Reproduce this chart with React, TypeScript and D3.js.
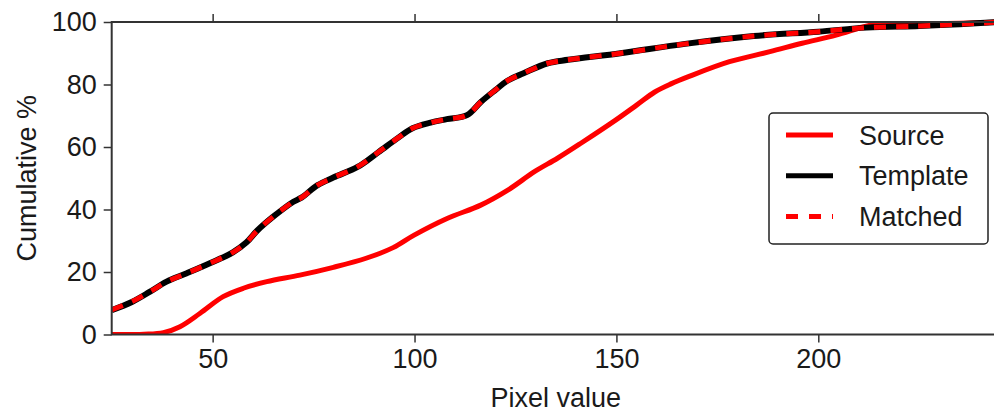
import React, { useEffect, useRef } from "react";
import * as d3 from "d3";

// pixel value / cumulative %
const sourceX = [25, 33, 37.8, 41.9, 46.9, 52.6, 57.6, 63.4, 71.6, 79.9, 88, 94.7, 99.9, 108.2, 116.4, 123.1, 129.7, 135.4, 141.2, 149.8, 155, 159.5, 163.5, 168, 178, 188, 196, 204.4, 211, 214, 225, 235, 245];
const sourcePct = [0, 0.1, 0.6, 2.5, 6.8, 12.1, 14.8, 16.9, 19, 21.5, 24.4, 27.8, 31.8, 37.2, 41.4, 46.2, 52.1, 56.4, 61.2, 68.6, 73.4, 77.6, 80.2, 82.6, 87.3, 90.5, 93.2, 95.8, 98.4, 99.2, 99.3, 99.6, 100];

const templateX = [25, 30, 34.5, 38.6, 43.6, 49.3, 55, 58.4, 61, 65, 70, 72, 76, 80, 86, 91, 96, 99.5, 104, 108, 113, 116.5, 120, 123, 127, 133, 138, 151, 167, 184, 200, 212, 225, 235, 245];
const templatePct = [7.8, 10.4, 13.7, 16.9, 19.6, 22.8, 26.3, 29.5, 33.2, 37.7, 42.5, 43.8, 47.8, 50.3, 53.7, 58.3, 63, 66, 67.8, 68.9, 70.2, 74.5, 78.2, 81.2, 83.6, 86.8, 87.9, 90, 93, 95.5, 96.9, 98.2, 98.7, 99.3, 100];

const matchedX = [25, 30, 34.5, 38.6, 43.6, 49.3, 55, 58.4, 61, 65, 70, 72, 76, 80, 86, 91, 96, 99.5, 104, 108, 113, 116.5, 120, 123, 127, 133, 138, 151, 167, 184, 200, 212, 225, 235, 245];
const matchedPct = [7.9, 10.5, 13.7, 16.9, 19.6, 22.8, 26.3, 29.5, 33.2, 37.7, 42.5, 43.8, 47.8, 50.3, 53.7, 58.3, 63, 66, 67.8, 68.9, 70.2, 74.5, 78.2, 81.2, 83.6, 86.8, 87.9, 90, 93, 95.5, 96.9, 98.2, 98.7, 99.3, 100];

const legendLabels = ["Source", "Template", "Matched"];
const xTicks = [50, 100, 150, 200];
const yTicks = [0, 20, 40, 60, 80, 100];

const App = () => {
  const svgRef = useRef<SVGSVGElement>(null);

  useEffect(() => {
    const width = 994;
    const height = 413;
    const svg = d3.select(svgRef.current);
    svg.selectAll("*").remove();
    svg.attr("width", width).attr("height", height);

    const x = d3.scaleLinear().domain([25, 245]).range([111.7, 1000]);
    const y = d3.scaleLinear().domain([0, 100]).range([334.5, 22]);
    const font = "'Liberation Sans', Arial, sans-serif";
    const fontSize = "27px";

    svg.append("rect").attr("width", width).attr("height", height).attr("fill", "#fff");

    svg
      .append("clipPath")
      .attr("id", "plot-clip")
      .append("rect")
      .attr("x", x(25))
      .attr("y", y(100) - 4)
      .attr("width", x(245) - x(25))
      .attr("height", y(0) - y(100) + 4);

    // axes, ticks pointing out
    const styleAxis = (g: any) => {
      g.select(".domain").remove();
      g.selectAll(".tick line").attr("stroke", "#333").attr("stroke-width", 1.5);
      g.selectAll(".tick text").attr("fill", "#1a1a1a").style("font-size", fontSize).style("font-family", font);
    };

    svg
      .append("g")
      .attr("transform", `translate(0,${y(0)})`)
      .call(d3.axisBottom(x).tickValues(xTicks).tickSize(8).tickPadding(6).tickFormat(d3.format("d")))
      .call(styleAxis);

    svg
      .append("g")
      .attr("transform", `translate(0,${y(100)})`)
      .call(d3.axisTop(x).tickValues(xTicks).tickSize(8).tickFormat(() => ""))
      .call(styleAxis);

    svg
      .append("g")
      .attr("transform", `translate(${x(25)},0)`)
      .call(d3.axisLeft(y).tickValues(yTicks).tickSize(8).tickPadding(7).tickFormat(d3.format("d")))
      .call(styleAxis);

    // lines
    const line = d3
      .line<[number, number]>()
      .x((d) => x(d[0]))
      .y((d) => y(d[1]))
      .curve(d3.curveCatmullRom.alpha(0.5));

    const plot = svg.append("g").attr("clip-path", "url(#plot-clip)");

    plot
      .append("path")
      .datum(d3.zip(sourceX, sourcePct) as [number, number][])
      .attr("d", line)
      .attr("fill", "none")
      .attr("stroke", "#ff0000")
      .attr("stroke-width", 5);

    plot
      .append("path")
      .datum(d3.zip(templateX, templatePct) as [number, number][])
      .attr("d", line)
      .attr("fill", "none")
      .attr("stroke", "#000")
      .attr("stroke-width", 6);

    plot
      .append("path")
      .datum(d3.zip(matchedX, matchedPct) as [number, number][])
      .attr("d", line)
      .attr("fill", "none")
      .attr("stroke", "#ff0000")
      .attr("stroke-width", 5)
      .attr("stroke-dasharray", "12,10");

    // frame (right edge falls outside the window)
    svg
      .append("rect")
      .attr("x", x(25))
      .attr("y", y(100))
      .attr("width", x(245) - x(25))
      .attr("height", y(0) - y(100))
      .attr("fill", "none")
      .attr("stroke", "#333")
      .attr("stroke-width", 2);

    // axis labels
    svg
      .append("text")
      .attr("x", (x(25) + x(245)) / 2)
      .attr("y", 407)
      .attr("text-anchor", "middle")
      .style("font-family", font)
      .style("font-size", fontSize)
      .attr("fill", "#1a1a1a")
      .text("Pixel value");

    svg
      .append("text")
      .attr("transform", `translate(36,${(y(0) + y(100)) / 2}) rotate(-90)`)
      .attr("text-anchor", "middle")
      .style("font-family", font)
      .style("font-size", fontSize)
      .attr("fill", "#1a1a1a")
      .text("Cumulative %");

    // legend
    const legend = svg.append("g");
    legend
      .append("rect")
      .attr("x", 769)
      .attr("y", 113)
      .attr("width", 219)
      .attr("height", 131)
      .attr("rx", 4)
      .attr("fill", "#fff")
      .attr("stroke", "#222")
      .attr("stroke-width", 1.5);

    const legendStyles = [
      { color: "#ff0000", dash: null, w: 5 },
      { color: "#000", dash: null, w: 5 },
      { color: "#ff0000", dash: "12,11", w: 5 },
    ];
    legendLabels.forEach((label, i) => {
      const ly = 135 + i * 40.8;
      legend
        .append("line")
        .attr("x1", 786)
        .attr("x2", 833)
        .attr("y1", ly)
        .attr("y2", ly)
        .attr("stroke", legendStyles[i].color)
        .attr("stroke-width", legendStyles[i].w)
        .attr("stroke-dasharray", legendStyles[i].dash);
      legend
        .append("text")
        .attr("x", 859)
        .attr("y", ly + 9.5)
        .style("font-family", font)
        .style("font-size", fontSize)
        .attr("fill", "#1a1a1a")
        .text(label);
    });
  }, []);

  return <svg ref={svgRef} style={{ position: "absolute", left: 0, top: 0, display: "block" }} />;
};

export default App;
